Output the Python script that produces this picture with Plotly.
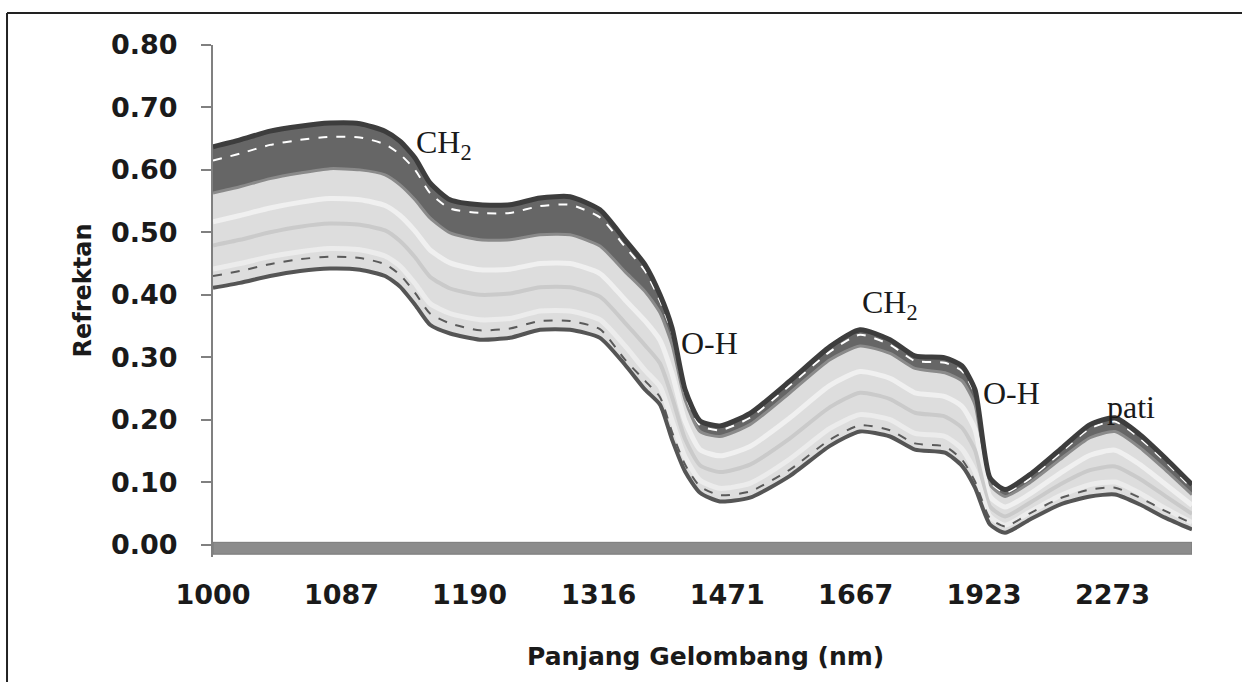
import plotly.graph_objects as go

# wavenumber sample positions (cm-1); axis is labelled in nm
wavenumber = [10000, 9832, 9645, 9458, 9272, 9085, 8929, 8836, 8742, 8649, 8524, 8338, 8151, 7964,
              7777, 7591, 7435, 7310, 7217, 7142, 7061, 6968, 6844, 6657, 6408, 6159, 5972, 5785,
              5630, 5443, 5337, 5256, 5163, 5069, 4914, 4727, 4540, 4384, 4229, 4073, 3905]

tick_labels_nm = [1000, 1087, 1190, 1316, 1471, 1667, 1923, 2273]
y_ticks = [0.00, 0.10, 0.20, 0.30, 0.40, 0.50, 0.60, 0.70, 0.80]

spec_max = [0.637, 0.648, 0.662, 0.670, 0.675, 0.674, 0.662, 0.646, 0.619, 0.579, 0.552, 0.544, 0.544, 0.555,
            0.557, 0.536, 0.488, 0.448, 0.400, 0.347, 0.248, 0.198, 0.190, 0.210, 0.262, 0.317, 0.344, 0.328,
            0.302, 0.299, 0.286, 0.248, 0.107, 0.088, 0.112, 0.152, 0.192, 0.203, 0.176, 0.139, 0.096]

spec_white = [0.615, 0.626, 0.640, 0.648, 0.653, 0.652, 0.641, 0.625, 0.600, 0.563, 0.538, 0.531, 0.531, 0.542,
              0.544, 0.524, 0.477, 0.438, 0.390, 0.338, 0.240, 0.191, 0.183, 0.203, 0.255, 0.309, 0.336, 0.320,
              0.294, 0.291, 0.278, 0.240, 0.101, 0.083, 0.106, 0.146, 0.186, 0.197, 0.170, 0.133, 0.090]

spec_dark = [0.563, 0.573, 0.586, 0.595, 0.602, 0.600, 0.592, 0.576, 0.552, 0.523, 0.499, 0.488, 0.488, 0.496,
             0.496, 0.478, 0.437, 0.405, 0.371, 0.320, 0.232, 0.181, 0.173, 0.192, 0.243, 0.296, 0.318, 0.306,
             0.282, 0.275, 0.262, 0.224, 0.096, 0.077, 0.099, 0.136, 0.171, 0.181, 0.155, 0.120, 0.080]

spec_mid1 = [0.517, 0.527, 0.539, 0.548, 0.554, 0.552, 0.543, 0.527, 0.502, 0.472, 0.451, 0.440, 0.441, 0.450,
             0.450, 0.434, 0.392, 0.358, 0.327, 0.274, 0.198, 0.152, 0.142, 0.157, 0.203, 0.255, 0.277, 0.266,
             0.243, 0.237, 0.221, 0.184, 0.077, 0.060, 0.081, 0.114, 0.143, 0.151, 0.128, 0.097, 0.063]

spec_mid2 = [0.479, 0.488, 0.500, 0.509, 0.514, 0.512, 0.503, 0.486, 0.460, 0.429, 0.410, 0.400, 0.402, 0.412,
             0.412, 0.397, 0.355, 0.319, 0.290, 0.236, 0.169, 0.127, 0.116, 0.128, 0.170, 0.220, 0.243, 0.233,
             0.211, 0.205, 0.187, 0.151, 0.061, 0.045, 0.067, 0.096, 0.119, 0.125, 0.105, 0.078, 0.049]

spec_mid3 = [0.441, 0.450, 0.461, 0.469, 0.474, 0.472, 0.462, 0.446, 0.418, 0.386, 0.370, 0.360, 0.362, 0.374,
             0.374, 0.360, 0.318, 0.279, 0.253, 0.198, 0.140, 0.103, 0.090, 0.098, 0.137, 0.186, 0.208, 0.200,
             0.178, 0.173, 0.153, 0.117, 0.045, 0.031, 0.052, 0.078, 0.096, 0.100, 0.082, 0.058, 0.035]

spec_low = [0.430, 0.438, 0.449, 0.457, 0.461, 0.459, 0.449, 0.432, 0.403, 0.370, 0.354, 0.343, 0.346, 0.358,
            0.358, 0.345, 0.296, 0.262, 0.236, 0.180, 0.128, 0.093, 0.079, 0.085, 0.120, 0.168, 0.191, 0.183,
            0.162, 0.157, 0.136, 0.101, 0.042, 0.029, 0.050, 0.074, 0.088, 0.091, 0.075, 0.054, 0.034]

spec_min = [0.411, 0.419, 0.430, 0.438, 0.442, 0.440, 0.430, 0.413, 0.384, 0.352, 0.338, 0.328, 0.331, 0.344,
            0.344, 0.331, 0.288, 0.248, 0.224, 0.168, 0.117, 0.083, 0.069, 0.075, 0.110, 0.158, 0.181, 0.173,
            0.152, 0.147, 0.126, 0.091, 0.032, 0.019, 0.040, 0.064, 0.077, 0.080, 0.064, 0.043, 0.024]

SM = dict(shape="spline", smoothing=0.6)
fig = go.Figure()

# light body of spectra (fill between min and max)
fig.add_trace(go.Scatter(x=wavenumber, y=spec_min, mode="lines", line=dict(width=0, **SM),
                         showlegend=False, hoverinfo="skip"))
fig.add_trace(go.Scatter(x=wavenumber, y=spec_max, mode="lines", line=dict(width=0, **SM),
                         fill="tonexty", fillcolor="#dddddd", showlegend=False, hoverinfo="skip"))
# dark upper group
fig.add_trace(go.Scatter(x=wavenumber, y=spec_dark, mode="lines", line=dict(width=0, **SM),
                         showlegend=False, hoverinfo="skip"))
fig.add_trace(go.Scatter(x=wavenumber, y=spec_max, mode="lines", line=dict(width=0, **SM),
                         fill="tonexty", fillcolor="#666666", showlegend=False, hoverinfo="skip"))

# texture lines in the light body
for ys, col, w in [(spec_dark, "#8a8a8a", 3), (spec_mid1, "#f0f0f0", 5), (spec_mid2, "#cacaca", 4),
                   (spec_mid3, "#ececec", 5)]:
    fig.add_trace(go.Scatter(x=wavenumber, y=ys, mode="lines", line=dict(color=col, width=w, **SM),
                             showlegend=False, hoverinfo="skip"))

fig.add_trace(go.Scatter(x=wavenumber, y=spec_low, mode="lines",
                         line=dict(color="#5a5a5a", width=2, dash="dash", **SM),
                         showlegend=False, hoverinfo="skip"))
fig.add_trace(go.Scatter(x=wavenumber, y=spec_white, mode="lines",
                         line=dict(color="#ffffff", width=2, dash="dash", **SM),
                         showlegend=False, hoverinfo="skip"))
fig.add_trace(go.Scatter(x=wavenumber, y=spec_max, mode="lines", line=dict(color="#3d3d3d", width=5, **SM),
                         showlegend=False, hoverinfo="skip"))
fig.add_trace(go.Scatter(x=wavenumber, y=spec_min, mode="lines", line=dict(color="#555555", width=4, **SM),
                         showlegend=False, hoverinfo="skip"))

tick_font = dict(family="DejaVu Sans", size=27, color="#1a1a1a", weight="bold")

fig.update_xaxes(range=[10000, 3905], tickvals=[1e7 / v for v in tick_labels_nm],
                 ticktext=[str(v) for v in tick_labels_nm], ticks="", showgrid=False, zeroline=False,
                 showline=False, tickfont=tick_font, ticklabelstandoff=19)
fig.update_yaxes(range=[-0.02, 0.80], tickvals=y_ticks, ticktext=[f"{v:.2f}" for v in y_ticks],
                 ticks="outside", ticklen=10, tickwidth=2, tickcolor="#808080", showline=True,
                 linecolor="#808080", linewidth=2, showgrid=False, zeroline=False, tickfont=tick_font,
                 ticklabelstandoff=18)

# axis titles placed as annotations
fig.add_annotation(text="Panjang Gelombang (nm)", xref="paper", yref="paper", x=0.5026, y=-0.194,
                   xanchor="center", yanchor="middle", showarrow=False,
                   font=dict(family="DejaVu Sans", size=25, color="#1a1a1a", weight="bold"))
fig.add_annotation(text="Refrektan", xref="paper", yref="paper", x=-0.1328, y=0.5205,
                   xanchor="center", yanchor="middle", showarrow=False, textangle=-90,
                   font=dict(family="DejaVu Sans", size=24, color="#1a1a1a", weight="bold"))

# thick baseline band at zero
fig.add_shape(type="rect", xref="x", yref="y", x0=10000, x1=3905, y0=-0.0155, y1=0.0035,
              fillcolor="#8c8c8c", line=dict(color="#7a7a7a", width=1), layer="above")

# outer frame
fig.add_shape(type="line", xref="paper", yref="paper", x0=-0.2104, x1=-0.2104, y0=-0.30, y1=1.0624,
              line=dict(color="#222222", width=2))
fig.add_shape(type="line", xref="paper", yref="paper", x0=-0.2104, x1=1.10, y0=1.0624, y1=1.0624,
              line=dict(color="#222222", width=2))

ann_font = dict(family="Liberation Serif, Times New Roman, serif", size=32, color="#1a1a1a")
for txt, xv, yv in [("CH<sub>2</sub>", 8562, 0.640), ("O-H", 6906, 0.322), ("CH<sub>2</sub>", 5785, 0.384),
                    ("O-H", 5026, 0.243), ("pati", 4285, 0.220)]:
    fig.add_annotation(x=xv, y=yv, xref="x", yref="y", text=txt, showarrow=False, font=ann_font,
                       xanchor="center", yanchor="middle")

fig.update_layout(width=1242, height=682, margin=dict(l=213, r=50, t=45, b=124.5),
                  plot_bgcolor="white", paper_bgcolor="white", showlegend=False)

fig.write_html("out.html")
